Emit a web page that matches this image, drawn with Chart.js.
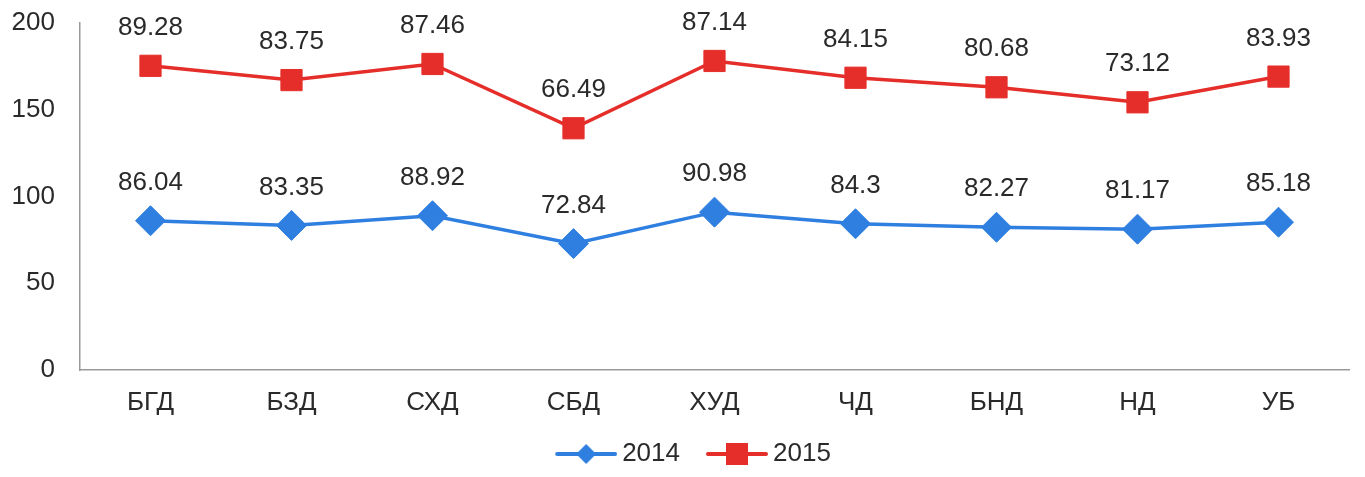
<!DOCTYPE html>
<html><head><meta charset="utf-8">
<script src="https://cdn.jsdelivr.net/npm/chart.js@4/dist/chart.umd.min.js"></script>
<style>html,body{margin:0;padding:0;background:#fff;overflow:hidden}canvas{display:block}</style>
</head><body><canvas id="c" width="1365" height="477" style="width:1365px;height:477px"></canvas>
<script>
const categories = ['БГД','БЗД','СХД','СБД','ХУД','ЧД','БНД','НД','УБ'];
const series2014 = [86.04, 83.35, 88.92, 72.84, 90.98, 84.3, 82.27, 81.17, 85.18];
const series2015 = [89.28, 83.75, 87.46, 66.49, 87.14, 84.15, 80.68, 73.12, 83.93];
const yTicks = [0, 50, 100, 150, 200];

const BLUE = '#2E7FE0', RED = '#E52E2A', TXT = '#2a2a2a';
const FONT = "'Liberation Sans', Arial, sans-serif";
const FS = 26;

function legendIcon(color, style){
  const c = document.createElement('canvas');
  c.width = 96; c.height = 26;
  const g = c.getContext('2d');
  g.strokeStyle = color; g.lineWidth = 4; g.lineCap = 'round';
  g.beginPath(); g.moveTo(36,13); g.lineTo(94,13); g.stroke();
  g.fillStyle = color;
  const cx = 65;
  if (style === 'rect') { g.fillRect(cx-11,2,22,22); }
  else { g.beginPath(); g.moveTo(cx,3); g.lineTo(cx+10,13); g.lineTo(cx,23); g.lineTo(cx-10,13); g.closePath(); g.fill(); }
  return c;
}
const icons = [legendIcon(BLUE,'rectRot'), legendIcon(RED,'rect')];

const labelPlugin = {
  id: 'vlabels',
  afterDatasetsDraw(chart){
    const ctx = chart.ctx;
    ctx.save();
    ctx.font = FS + 'px ' + FONT;
    ctx.fillStyle = TXT;
    ctx.textAlign = 'center';
    ctx.textBaseline = 'middle';
    chart.data.datasets.forEach((ds, i) => {
      const meta = chart.getDatasetMeta(i);
      meta.data.forEach((pt, j) => {
        ctx.fillText(String(ds.data[j]), pt.x, pt.y - 38);
      });
    });
    ctx.restore();
  }
};

new Chart(document.getElementById('c'), {
  type: 'line',
  data: {
    labels: categories,
    datasets: [
      { label: '2014', data: series2014, borderColor: BLUE, backgroundColor: BLUE,
        borderWidth: 3.5, pointStyle: 'rectRot', pointRadius: 15, pointBorderWidth: 1, tension: 0 },
      { label: '2015', data: series2015, borderColor: RED, backgroundColor: RED,
        borderWidth: 3.5, pointStyle: 'rect', pointRadius: 15, pointBorderWidth: 1, tension: 0 }
    ]
  },
  options: {
    responsive: false, maintainAspectRatio: false, animation: false, devicePixelRatio: 1,
    layout: { padding: { top: 23, right: 5, left: 0, bottom: 0 } },
    plugins: {
      tooltip: { enabled: false },
      legend: {
        position: 'bottom',
        labels: {
          usePointStyle: true, pointStyleWidth: 80, boxHeight: 26,
          color: TXT, font: { family: FONT, size: FS }, padding: 0,
          generateLabels(chart){
            const items = Chart.defaults.plugins.legend.labels.generateLabels(chart);
            items.forEach((it, k) => { it.pointStyle = icons[k]; });
            return items;
          }
        }
      }
    },
    scales: {
      x: {
        offset: true,
        grid: { display: false, drawTicks: false, offset: false },
        border: { display: true, color: '#999999', width: 1.5 },
        ticks: { color: TXT, font: { family: FONT, size: FS }, padding: 17 },
        afterFit(s){ s.height = 71; s.paddingLeft = 0; s.paddingRight = 0; }
      },
      y: {
        stacked: true, min: 0, max: 200,
        afterBuildTicks(s){ s.ticks = yTicks.map(v => ({ value: v })); },
        grid: { display: false, drawTicks: false },
        border: { display: true, color: '#999999', width: 1.5 },
        ticks: { color: TXT, font: { family: FONT, size: FS }, padding: 25 },
        afterFit(s){ s.width = 80; s.paddingTop = 0; s.paddingBottom = 0; }
      }
    }
  },
  plugins: [labelPlugin]
});
</script></body></html>
